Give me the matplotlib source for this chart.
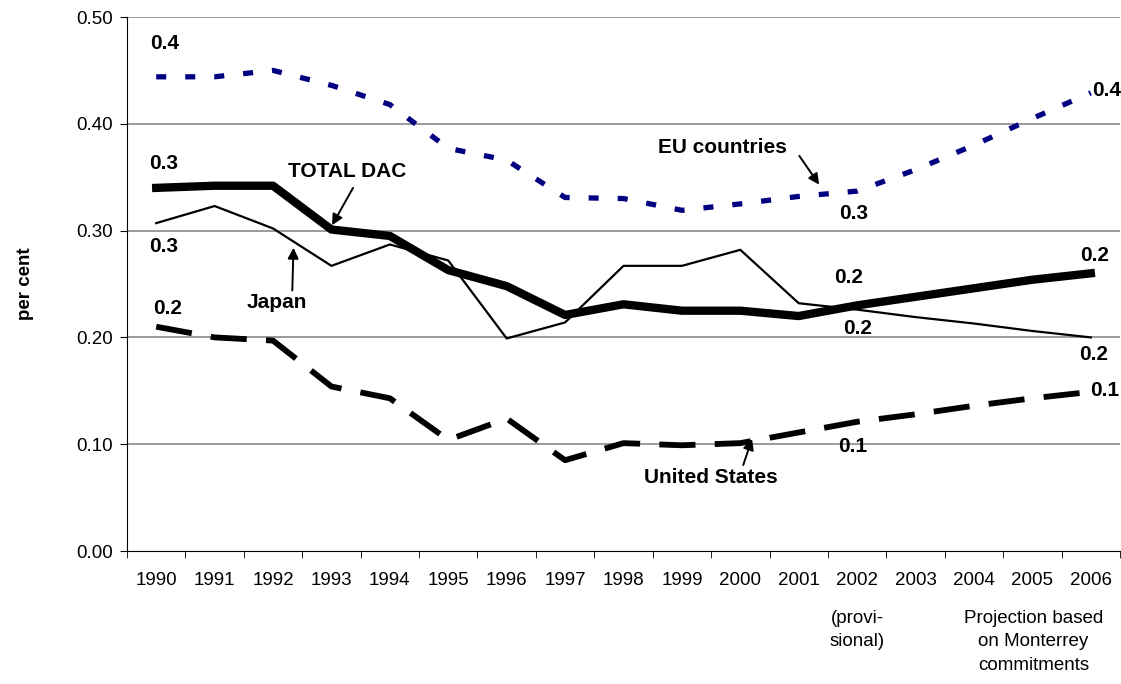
import matplotlib.pyplot as plt
import numpy as np

plt.rcParams['font.family'] = ['Liberation Sans', 'DejaVu Sans']

years = ['1990', '1991', '1992', '1993', '1994', '1995', '1996', '1997', '1998',
         '1999', '2000', '2001', '2002', '2003', '2004', '2005', '2006']

eu = [0.444, 0.444, 0.450, 0.436, 0.418, 0.377, 0.366, 0.331, 0.330,
      0.319, 0.325, 0.332, 0.337, 0.357, 0.380, 0.405, 0.429]
total_dac = [0.340, 0.342, 0.342, 0.301, 0.295, 0.263, 0.248, 0.221, 0.231,
             0.225, 0.225, 0.220, 0.230, 0.238, 0.246, 0.254, 0.260]
japan = [0.307, 0.323, 0.302, 0.267, 0.287, 0.272, 0.199, 0.214, 0.267,
         0.267, 0.282, 0.232, 0.226, 0.219, 0.213, 0.206, 0.200]
us = [0.210, 0.200, 0.197, 0.154, 0.143, 0.104, 0.124, 0.085, 0.101,
      0.099, 0.101, 0.111, 0.121, 0.128, 0.136, 0.143, 0.149]

x = np.arange(len(years))

fig = plt.figure(figsize=(11.21, 6.84), dpi=100)
ax = fig.add_axes([127/1121, 1 - 551/684, (1120-127)/1121, (551-17)/684])

# grid
for v in [0.1, 0.2, 0.3, 0.4, 0.5]:
    ax.axhline(v, color='#808080', lw=1.1, zorder=1)

ax.plot(x, eu, color='#000080', lw=3.8, dashes=(1.9, 3.6), zorder=3)
ax.plot(x, us, color='black', lw=4.2, dashes=(6.2, 3.3), zorder=3)
ax.plot(x, japan, color='black', lw=1.6, zorder=4)
ax.plot(x, total_dac, color='black', lw=6, zorder=5)

ax.set_xlim(-0.5, len(years) - 0.5)
ax.set_ylim(0, 0.5)
ax.set_yticks([0, 0.1, 0.2, 0.3, 0.4, 0.5])
ax.set_yticklabels(['0.00', '0.10', '0.20', '0.30', '0.40', '0.50'], fontsize=13.5)
ax.set_xticks(x)
ax.set_xticklabels(years, fontsize=13.5)
ax.tick_params(axis='x', length=0, pad=15)
ax.set_xticks(np.arange(len(years) + 1) - 0.5, minor=True)
ax.tick_params(axis='x', which='minor', length=5, direction='out')
ax.tick_params(axis='y', length=5, direction='out', pad=5)
for s in ['top', 'right']:
    ax.spines[s].set_visible(False)

ax.set_ylabel('per cent', fontsize=13.5, fontweight='bold')
ax.yaxis.set_label_coords(-0.094, 0.5)

# value labels
bold = dict(fontsize=15, fontweight='bold', ha='center', va='center')
ax.text(0.14, 0.475, '0.4', **bold)
ax.text(0.12, 0.363, '0.3', **bold)
ax.text(0.12, 0.285, '0.3', **bold)
ax.text(0.19, 0.227, '0.2', **bold)
ax.text(11.94, 0.316, '0.3', **bold)
ax.text(11.85, 0.256, '0.2', **bold)
ax.text(12.0, 0.208, '0.2', **bold)
ax.text(16.06, 0.277, '0.2', **bold)
ax.text(16.27, 0.431, '0.4', zorder=6,
        bbox=dict(facecolor='white', edgecolor='none', pad=0), **bold)
ax.text(16.04, 0.184, '0.2', **bold)
ax.text(16.23, 0.150, '0.1', **bold)
ax.text(11.93, 0.098, '0.1', **bold)

# series names with arrows
ax.text(3.27, 0.355, 'TOTAL DAC', **bold)
ax.text(2.07, 0.233, 'Japan', **bold)
ax.text(9.69, 0.378, 'EU countries', **bold)
ax.text(9.49, 0.069, 'United States', **bold)

arrow = dict(arrowstyle='-|>', color='black', lw=1.4, mutation_scale=16,
             shrinkA=0, shrinkB=0)
ax.annotate('', xy=(3.01, 0.305), xytext=(3.37, 0.340), arrowprops=arrow)
ax.annotate('', xy=(2.35, 0.284), xytext=(2.33, 0.244), arrowprops=arrow)
ax.annotate('', xy=(11.35, 0.343), xytext=(11.01, 0.370), arrowprops=arrow)
ax.annotate('', xy=(10.2, 0.105), xytext=(10.05, 0.0805), arrowprops=arrow)

# notes under the axis
ax.text(12, -0.055, '(provi-\nsional)', fontsize=13.5, ha='center', va='top',
        linespacing=1.5, clip_on=False)
ax.text(15.02, -0.055, 'Projection based\non Monterrey\ncommitments', fontsize=13.5,
        ha='center', va='top', linespacing=1.5, clip_on=False)

fig.savefig('out.png', dpi=100)
